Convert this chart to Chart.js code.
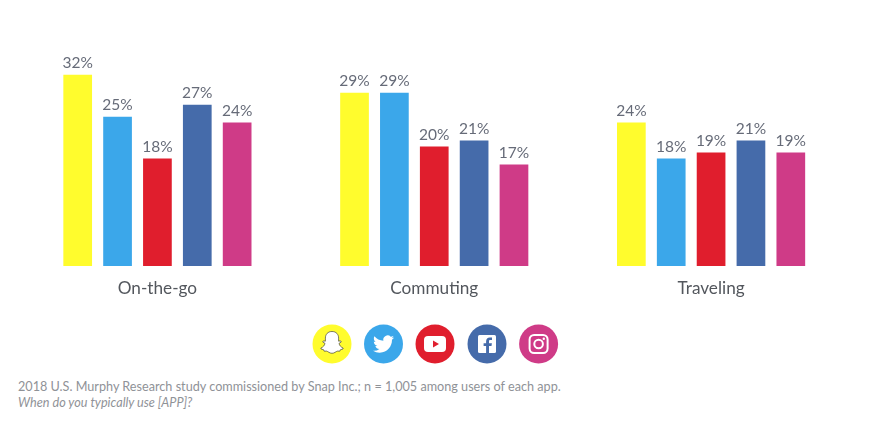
<!DOCTYPE html>
<html>
<head>
<meta charset="utf-8">
<style>
html,body{margin:0;padding:0;background:#fff;width:870px;height:433px;overflow:hidden}
#wrap{position:absolute;left:0;top:0;width:870px;height:310px}
#icons{position:absolute;left:0;top:320px}
#note{position:absolute;left:18px;top:379px;font:12.65px/16px Lato,sans-serif;color:#8f9297;white-space:nowrap}
#note i{display:block}
</style>
<script src="https://cdn.jsdelivr.net/npm/chart.js@4"></script>
</head>
<body>
<div id="wrap"><canvas id="c"></canvas></div>
<svg id="icons" width="870" height="50" viewBox="0 320 870 50">
	<!-- snapchat -->
	<circle cx="332" cy="344" r="19.5" fill="#fffc2d"/>
	<path d="M332 331.5c-4.2 0-6.6 2.9-6.6 6.6v3.1l-1.9-.4-.8 1.2 2.3 1.4c-.5 2-1.9 3.8-4.1 4.6l.1 1 2.7.8.5 1.4 2.3-.1c1.600.3 3 2.200 5.500 2.200s3.900-1.900 5.500-2.200l2.300.1.500-1.400 2.700-.8.100-1c-2.200-.8-3.600-2.600-4.100-4.600l2.300-1.400-.8-1.200-1.900.4v-3.100c0-3.700-2.400-6.600-6.600-6.600z" fill="#fff" stroke="#444" stroke-width=".7"/>
	<!-- twitter -->
	<circle cx="383.500" cy="344" r="19.500" fill="#3ba7ea"/>
	<path transform="translate(373 333.500) scale(.88)" d="M23.953 4.57a10 10 0 01-2.825.775 4.958 4.958 0 002.163-2.723c-.951.555-2.005.959-3.127 1.184a4.92 4.92 0 00-8.384 4.482C7.69 8.095 4.067 6.13 1.64 3.162a4.822 4.822 0 00-.666 2.475c0 1.71.87 3.213 2.188 4.096a4.904 4.904 0 01-2.228-.616v.06a4.923 4.923 0 003.946 4.827 4.996 4.996 0 01-2.212.085 4.936 4.936 0 004.604 3.417 9.867 9.867 0 01-6.102 2.105c-.39 0-.779-.023-1.17-.067a13.995 13.995 0 007.557 2.209c9.053 0 13.998-7.496 13.998-13.985 0-.21 0-.42-.015-.63A9.935 9.935 0 0024 4.59z" fill="#fff"/>
	<!-- youtube -->
	<circle cx="435" cy="344" r="19.500" fill="#e01e2d"/>
	<rect x="424" y="336" width="22" height="16" rx="4" fill="#fff"/>
	<path d="M433 340.500l6 3.500-6 3.500z" fill="#e01e2d"/>
	<!-- facebook -->
	<circle cx="487" cy="344" r="19.500" fill="#456baa"/>
	<rect x="478" y="335" width="18" height="18" rx="1.500" fill="#fff"/>
	<path d="M489 353v-7h2.500l.4-2.800H489v-1.700c0-.9.300-1.400 1.500-1.400h1.500v-2.500c-.3 0-1.200-.1-2.200-.1-2.200 0-3.700 1.300-3.700 3.800v1.900h-2.500v2.800h2.500v7z" fill="#456baa"/>
	<!-- instagram -->
	<circle cx="538.600" cy="344" r="19.500" fill="#cf3b87"/>
	<rect x="529.600" y="335" width="18" height="18" rx="4.500" fill="none" stroke="#fff" stroke-width="2"/>
	<circle cx="538.600" cy="344" r="4.300" fill="none" stroke="#fff" stroke-width="2"/>
	<circle cx="543.800" cy="338.800" r="1.200" fill="#fff"/>
</svg>
<div id="note">2018 U.S. Murphy Research study commissioned by Snap Inc.; n = 1,005 among users of each app.<i>When do you typically use [APP]?</i></div>
<script>
var categories = ['On-the-go', 'Commuting', 'Traveling'];
var apps = ['Snapchat', 'Twitter', 'YouTube', 'Facebook', 'Instagram'];
var appColors = ['#fffc2d', '#3ba7ea', '#e01e2d', '#456baa', '#cf3b87'];
var snapchat = [32, 29, 24];
var twitter = [25, 29, 18];
var youtube = [18, 20, 19];
var facebook = [27, 21, 21];
var instagram = [24, 17, 19];
var series = [snapchat, twitter, youtube, facebook, instagram];

// percent labels on top of each bar
var barLabels = {
	id: 'barLabels',
	afterDatasetsDraw: function(chart){
		var ctx = chart.ctx;
		ctx.save();
		ctx.font = '15.5px Lato, sans-serif';
		ctx.fillStyle = '#666b78';
		ctx.textAlign = 'center';
		ctx.textBaseline = 'bottom';
		chart.data.datasets.forEach(function(ds, i){
			chart.getDatasetMeta(i).data.forEach(function(bar, j){
				ctx.fillText(ds.data[j] + '%', bar.x, bar.y - 4);
			});
		});
		ctx.restore();
	}
};

new Chart(document.getElementById('c').getContext('2d'), {
	type: 'bar',
	data: {
		labels: categories,
		datasets: apps.map(function(name, i){
			return {label: name, data: series[i], backgroundColor: appColors[i]};
		})
	},
	options: {
		responsive: true,
		maintainAspectRatio: false,
		animation: false,
		layout: {padding: {left: 19, right: 20.5, top: 27, bottom: 0}},
		datasets: {bar: {categoryPercentage: 0.72, barPercentage: 0.72}},
		plugins: {legend: {display: false}, tooltip: {enabled: false}},
		scales: {
			x: {
				grid: {display: false},
				border: {display: false},
				ticks: {color: '#53575d', font: {family: 'Lato, sans-serif', size: 17.2}, padding: 4, maxRotation: 0},
				afterFit: function(scale){ scale.height = 44; }
			},
			y: {display: false, min: 0, max: 40}
		}
	},
	plugins: [barLabels]
});
</script>
</body>
</html>
